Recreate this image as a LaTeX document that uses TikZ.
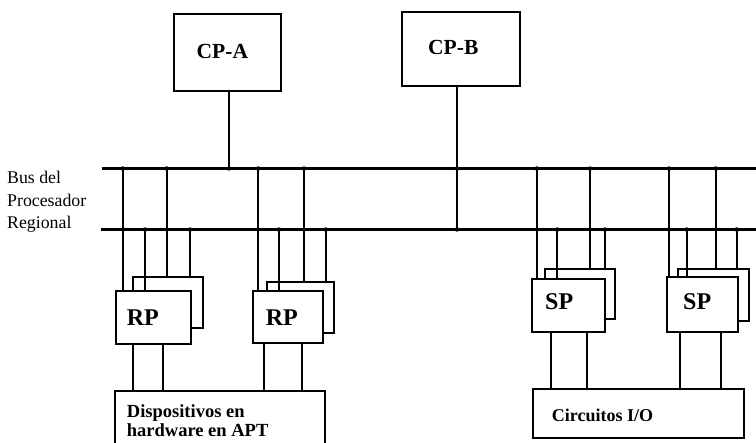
\documentclass[tikz,border=0pt]{standalone}
\usepackage{fontspec}
\setmainfont{Liberation Serif}
\begin{document}
\begin{tikzpicture}[x=1pt,y=-1pt,
  box/.style={draw,line width=1.9pt,fill=white,inner sep=0pt,anchor=north west},
  cpbox/.style={draw,line width=1.7pt,fill=white,inner sep=0pt,anchor=north west},
  busline/.style={line width=3pt},
  wire/.style={line width=1.9pt},
  thinwire/.style={line width=1.4pt},
  lbl/.style={font=\fontsize{17.8}{20}\selectfont,anchor=base west,inner sep=0pt},
  bigtxt/.style={font=\fontsize{24}{26}\selectfont\bfseries,anchor=base west,inner sep=0pt},
  cptxt/.style={font=\fontsize{21.5}{24}\selectfont\bfseries,anchor=base west,inner sep=0pt},
  smalltxt/.style={font=\fontsize{18.5}{20}\selectfont\bfseries,anchor=base west,inner sep=0pt}]
\useasboundingbox[fill=white] (0,0) rectangle (756,443);

% buses
\coordinate (busTL) at (101.7,168.5);
\coordinate (busTR) at (756,168.5);
\coordinate (busBL) at (101,229.5);
\coordinate (busBR) at (756,229.5);
\draw[busline] (busTL) -- (busTR);
\draw[busline] (busBL) -- (busBR);

% bus label
\node[lbl] (lb1) at (7,184) {Bus del};
\node[lbl] (lb2) at (7,207) {Procesador};
\node[lbl] (lb3) at (7,229) {Regional};

% CP boxes
\node[cpbox,minimum width=107pt,minimum height=77pt] (cpa) at (173,13) {};
\node[cpbox,minimum width=118pt,minimum height=74pt] (cpb) at (401,11) {};
\node[cptxt] (cpat) at (196.5,58.7) {CP-A};
\node[cptxt] (cpbt) at (428,54.4) {CP-B};
\coordinate (xa) at (229,0);
\coordinate (xb) at (457,0);
\draw[thinwire] (cpa.south -| xa) -- (xa |- busTL);
\draw[thinwire] (cpb.south -| xb) -- (xb |- busBL);
\fill (xa |- busTL) circle (2.2);
\fill (xb |- busTL) circle (2.2);
\fill (xb |- busBL) circle (2.2);

% back boxes
\node[box,minimum width=70pt,minimum height=51pt] (rp1b) at (131.7,275.7) {};
\node[box,minimum width=67.3pt,minimum height=51pt] (rp2b) at (266,280.7) {};
\node[box,minimum width=69.7pt,minimum height=50.6pt] (sp1b) at (544.3,267.7) {};
\node[box,minimum width=71.6pt,minimum height=52.3pt] (sp2b) at (676.7,267.7) {};

% junction dots on the buses
\foreach \x/\b in {122.7/busTL, 166.7/busTL, 145/busBL, 190/busBL,
                   258.3/busTL, 304/busTL, 279/busBL, 325.7/busBL,
                   536.7/busTL, 590/busTL, 557.3/busBL, 605/busBL,
                   669/busTL, 715.7/busTL, 686.7/busBL, 736.7/busBL}{
  \coordinate (jx) at (\x,0);
  \fill (jx |- \b) circle (2.2);
}
% front-box top y values
\coordinate (rp1ftop) at (0,290.5);
\coordinate (rp2ftop) at (0,290);
\coordinate (sp1ftop) at (0,277.7);
\coordinate (sp2ftop) at (0,276);
\foreach \x/\b/\t in {122.7/busTL/rp1ftop, 145/busBL/rp1ftop,
                      258.3/busTL/rp2ftop, 279/busBL/rp2ftop,
                      536.7/busTL/sp1ftop, 557.3/busBL/sp1ftop,
                      669/busTL/sp2ftop, 686.7/busBL/sp2ftop}{
  \coordinate (jx) at (\x,0);
  \draw[wire] (jx |- \b) -- (jx |- \t);
}
\foreach \x/\b/\t in {166.7/busTL/rp1b, 190/busBL/rp1b,
                      304/busTL/rp2b, 325.7/busBL/rp2b,
                      590/busTL/sp1b, 605/busBL/sp1b,
                      715.7/busTL/sp2b, 736.7/busBL/sp2b}{
  \coordinate (jx) at (\x,0);
  \draw[wire] (jx |- \b) -- (jx |- \t.north);
}

% front boxes
\node[box,minimum width=75pt,minimum height=52.2pt] (rp1f) at (115,290.5) {};
\node[box,minimum width=70pt,minimum height=51.7pt] (rp2f) at (251.7,290) {};
\node[box,minimum width=73.3pt,minimum height=53pt] (sp1f) at (530.7,277.7) {};
\node[box,minimum width=71.3pt,minimum height=54.7pt] (sp2f) at (666,276) {};
\node[bigtxt] (rp1t) at (126.7,325.5) {RP};
\node[bigtxt] (rp2t) at (265.7,325.5) {RP};
\node[bigtxt] (sp1t) at (545,309.5) {SP};
\node[bigtxt] (sp2t) at (683,309.5) {SP};

% lower boxes
\coordinate (hwtl) at (115,390.7);
\coordinate (hwtr) at (325,390.7);
\coordinate (hwbl) at (115,443);
\coordinate (hwbr) at (325,443);
\draw[line width=1.9pt] (hwbl) -- (hwtl) -- (hwtr) -- (hwbr);
\node[smalltxt] (hw1) at (126.7,418) {Dispositivos en};
\node[smalltxt] (hw2) at (126.7,437) {hardware en APT};
\node[box,minimum width=211.6pt,minimum height=48.4pt] (io) at (531.7,388.3) {};
\node[font=\fontsize{18}{20}\selectfont\bfseries,anchor=base west,inner sep=0pt] (iot) at (551.7,422) {Circuitos I/O};

% wires from processors to lower boxes
\foreach \x/\s in {133.3/rp1f, 163.3/rp1f, 264.3/rp2f, 301.7/rp2f}{
  \coordinate (jx) at (\x,0);
  \draw[wire] (jx |- \s.south) -- (jx |- hwtl);
}
\foreach \x/\s in {550.7/sp1f, 587.3/sp1f, 680/sp2f, 720.7/sp2f}{
  \coordinate (jx) at (\x,0);
  \draw[wire] (jx |- \s.south) -- (jx |- io.north);
}
\end{tikzpicture}
\end{document}
